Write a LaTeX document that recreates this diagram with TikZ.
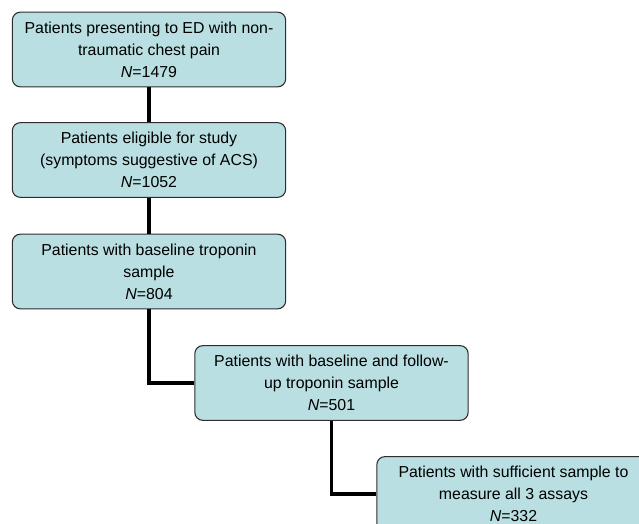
\documentclass[tikz,border=0pt]{standalone}
\usepackage{fontspec}
\setmainfont{Liberation Sans}
\usepackage{xcolor}
\usetikzlibrary{positioning}
\definecolor{boxfill}{RGB}{185,223,226}
\definecolor{boxline}{RGB}{45,45,45}

\begin{document}
\begin{tikzpicture}[
    x=0.75pt, y=-0.75pt,
    box/.style={rectangle, draw=boxline, line width=0.8pt, fill=boxfill, rounded corners=6pt,
        minimum width=205pt, minimum height=56pt, align=center,
        font=\fontsize{11.9pt}{16.5pt}\selectfont},
    link/.style={line width=2.3pt, black}
]

% Canvas
\useasboundingbox (0,0) rectangle (639,524);
\clip (0,0) rectangle (639,524);

% Boxes
\node[box] (present) at (149,49.5) {Patients presenting to ED with non-\\traumatic chest pain\\\textit{N}=1479};
\node[box] (eligible) at (149,160) {Patients eligible for study\\(symptoms suggestive of ACS)\\\textit{N}=1052};
\node[box] (baseline) at (149,271.5) {Patients with baseline troponin\\sample\\\textit{N}=804};
\node[box] (followup) at (331.5,383) {Patients with baseline and follow-\\up troponin sample\\\textit{N}=501};
\node[box] (assays) at (513.5,494) {Patients with sufficient sample to\\measure all 3 assays\\\textit{N}=332};

% Connectors
\draw[link] (present) -- (eligible);
\draw[link] (eligible) -- (baseline);
\draw[link] (baseline.south) |- (followup.west);
\draw[link] (followup.south) |- (assays.west);

\end{tikzpicture}
\end{document}
